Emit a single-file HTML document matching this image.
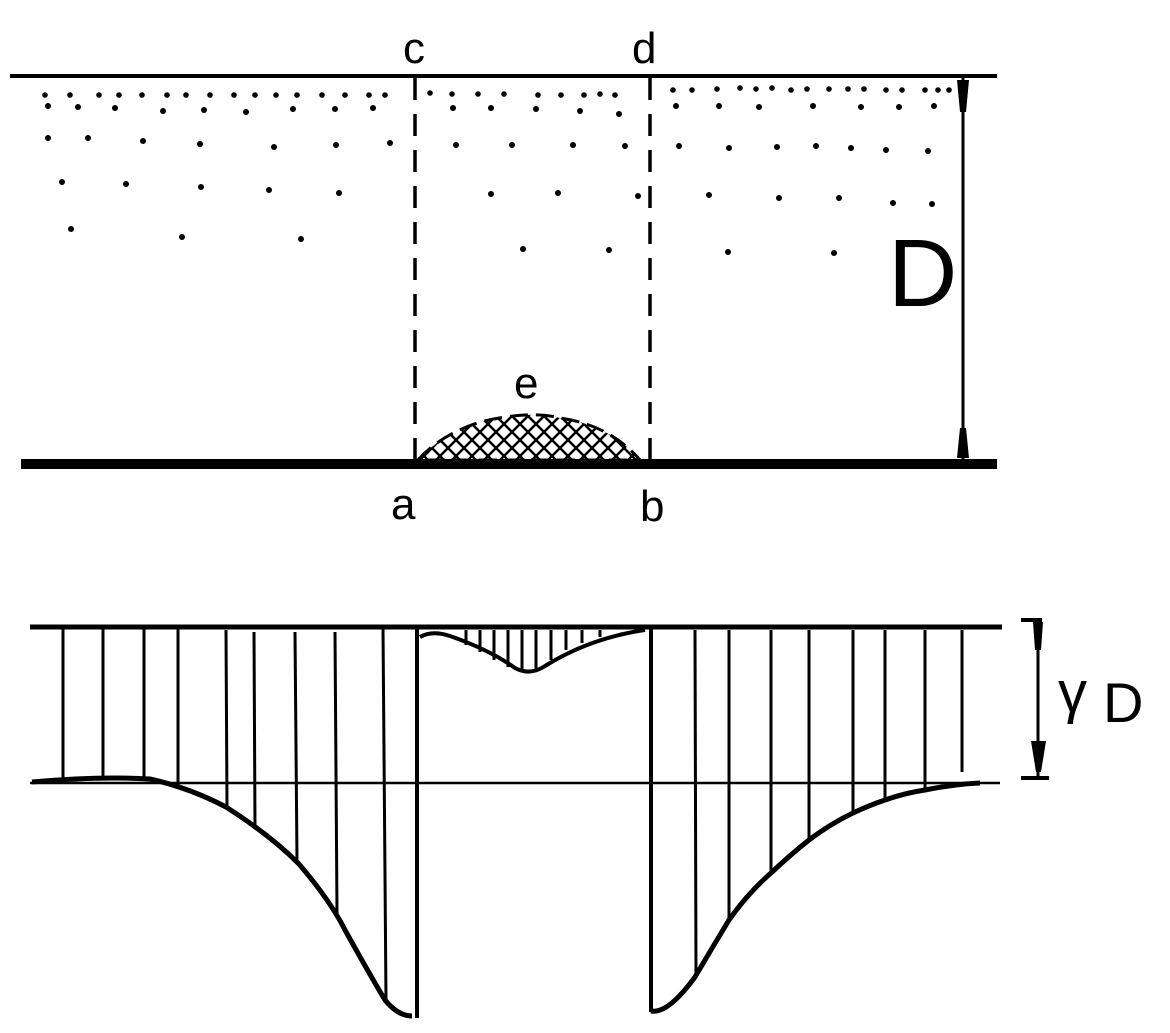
<!DOCTYPE html>
<html><head><meta charset="utf-8"><style>
html,body{margin:0;padding:0;background:#fff;}
svg{display:block;}
text{font-family:"Liberation Sans",sans-serif;fill:#000;}
</style></head><body>
<svg width="1170" height="1033" viewBox="0 0 1170 1033" xmlns="http://www.w3.org/2000/svg">
<defs>
<pattern id="hatch" width="16" height="16" patternUnits="userSpaceOnUse">
<path d="M0 0 L16 16 M16 0 L0 16" stroke="#000" stroke-width="2.5"/>
</pattern>
</defs>
<!-- top section -->
<line x1="10" y1="76" x2="997" y2="76" stroke="#000" stroke-width="4"/>
<line x1="21" y1="464" x2="997" y2="464" stroke="#000" stroke-width="10"/>
<line x1="415" y1="78" x2="415" y2="460" stroke="#000" stroke-width="3.5" stroke-dasharray="22,14"/>
<line x1="650" y1="78" x2="650" y2="460" stroke="#000" stroke-width="3.5" stroke-dasharray="22,14"/>
<!-- mound -->
<path d="M418 460 Q440 435 480 422 Q530 410 560 418 Q610 425 640 460 Z" fill="url(#hatch)" stroke="#000" stroke-width="3" stroke-dasharray="18,8"/>
<!-- D arrow -->
<line x1="963" y1="78" x2="963" y2="460" stroke="#000" stroke-width="3"/>
<polygon points="957,80 969,80 966,112 960,112" fill="#000"/>
<polygon points="957,458 969,458 966,428 960,428" fill="#000"/>
<!-- labels -->
<text x="403" y="63" font-size="44">c</text>
<text x="632" y="63" font-size="44">d</text>
<text x="514" y="398" font-size="44">e</text>
<text x="391" y="519" font-size="44">a</text>
<text x="640" y="521" font-size="44">b</text>
<text x="888" y="306" font-size="96">D</text>
<!-- dots -->
<g fill="#000">
<circle cx="45" cy="95" r="2.8"/><circle cx="70" cy="95" r="2.8"/><circle cx="99" cy="95" r="2.8"/><circle cx="119" cy="95" r="2.8"/><circle cx="142" cy="95" r="2.8"/><circle cx="167" cy="95" r="2.8"/><circle cx="186" cy="95" r="2.8"/><circle cx="210" cy="95" r="2.8"/><circle cx="234" cy="95" r="2.8"/><circle cx="255" cy="95" r="2.8"/><circle cx="276" cy="95" r="2.8"/><circle cx="297" cy="95" r="2.8"/><circle cx="322" cy="95" r="2.8"/><circle cx="345" cy="95" r="2.8"/><circle cx="369" cy="95" r="2.8"/><circle cx="385" cy="95" r="2.8"/>
<circle cx="430" cy="93" r="2.8"/><circle cx="452" cy="94" r="2.8"/><circle cx="478" cy="94" r="2.8"/><circle cx="504" cy="94" r="2.8"/><circle cx="538" cy="95" r="2.8"/><circle cx="561" cy="95" r="2.8"/><circle cx="584" cy="95" r="2.8"/><circle cx="600" cy="94" r="2.8"/><circle cx="615" cy="95" r="2.8"/>
<circle cx="673" cy="90" r="2.8"/><circle cx="692" cy="90" r="2.8"/><circle cx="717" cy="89" r="2.8"/><circle cx="740" cy="88" r="2.8"/><circle cx="756" cy="89" r="2.8"/><circle cx="772" cy="88" r="2.8"/><circle cx="791" cy="90" r="2.8"/><circle cx="807" cy="89" r="2.8"/><circle cx="829" cy="89" r="2.8"/><circle cx="848" cy="89" r="2.8"/><circle cx="864" cy="89" r="2.8"/><circle cx="886" cy="90" r="2.8"/><circle cx="902" cy="90" r="2.8"/><circle cx="925" cy="90" r="2.8"/><circle cx="938" cy="90" r="2.8"/><circle cx="949" cy="90" r="2.8"/>
<circle cx="48" cy="106" r="3"/><circle cx="78" cy="107" r="3"/><circle cx="115" cy="108" r="3"/><circle cx="163" cy="111" r="3"/><circle cx="204" cy="110" r="3"/><circle cx="246" cy="112" r="3"/><circle cx="293" cy="109" r="3"/><circle cx="335" cy="109" r="3"/><circle cx="373" cy="108" r="3"/><circle cx="453" cy="108" r="3"/><circle cx="491" cy="108" r="3"/><circle cx="536" cy="109" r="3"/><circle cx="580" cy="111" r="3"/><circle cx="619" cy="114" r="3"/>
<circle cx="676" cy="106" r="3"/><circle cx="719" cy="106" r="3"/><circle cx="759" cy="107" r="3"/><circle cx="813" cy="106" r="3"/><circle cx="861" cy="107" r="3"/><circle cx="899" cy="107" r="3"/><circle cx="934" cy="106" r="3"/>
<circle cx="48" cy="138" r="3"/><circle cx="88" cy="138" r="3"/><circle cx="143" cy="141" r="3"/><circle cx="200" cy="144" r="3"/><circle cx="274" cy="147" r="3"/><circle cx="336" cy="145" r="3"/><circle cx="390" cy="143" r="3"/><circle cx="456" cy="145" r="3"/><circle cx="512" cy="145" r="3"/><circle cx="573" cy="145" r="3"/><circle cx="625" cy="146" r="3"/>
<circle cx="679" cy="146" r="3"/><circle cx="729" cy="148" r="3"/><circle cx="777" cy="147" r="3"/><circle cx="816" cy="146" r="3"/><circle cx="851" cy="148" r="3"/><circle cx="886" cy="150" r="3"/><circle cx="928" cy="151" r="3"/>
<circle cx="62" cy="182" r="3"/><circle cx="126" cy="184" r="3"/><circle cx="201" cy="187" r="3"/><circle cx="269" cy="190" r="3"/><circle cx="339" cy="193" r="3"/><circle cx="491" cy="194" r="3"/><circle cx="558" cy="193" r="3"/><circle cx="638" cy="196" r="3"/><circle cx="709" cy="195" r="3"/><circle cx="779" cy="198" r="3"/><circle cx="839" cy="198" r="3"/><circle cx="893" cy="203" r="3"/><circle cx="932" cy="204" r="3"/>
<circle cx="71" cy="229" r="3"/><circle cx="182" cy="237" r="3"/><circle cx="301" cy="239" r="3"/><circle cx="523" cy="249" r="3"/><circle cx="609" cy="250" r="3"/><circle cx="728" cy="252" r="3"/><circle cx="834" cy="253" r="3"/>
</g>
<!-- bottom section -->
<line x1="30" y1="627" x2="1002" y2="627" stroke="#000" stroke-width="5"/>
<line x1="30" y1="783" x2="1000" y2="783" stroke="#000" stroke-width="2.5"/>
<!-- left curve -->
<path d="M32 782 Q100 776 150 779 Q190 788 226 807 Q270 835 298 863 Q330 900 345 930 Q370 975 385 1000 Q398 1016 412 1016" fill="none" stroke="#000" stroke-width="5"/>
<line x1="417" y1="627" x2="417" y2="1018" stroke="#000" stroke-width="4"/>
<g stroke="#000" stroke-width="3">
<line x1="63" y1="628" x2="63" y2="779"/>
<line x1="103" y1="628" x2="103" y2="778"/>
<line x1="144" y1="628" x2="144" y2="778"/>
<line x1="178" y1="628" x2="178" y2="787"/>
<line x1="226" y1="630" x2="227" y2="807"/>
<line x1="254" y1="632" x2="255" y2="828"/>
<line x1="295" y1="632" x2="297" y2="861"/>
<line x1="335" y1="632" x2="337" y2="913"/>
<line x1="383" y1="628" x2="386" y2="1000"/>
</g>
<!-- middle curve -->
<path d="M420 637 Q432 630 450 636 Q490 650 515 668 Q530 676 545 666 Q590 638 645 630" fill="none" stroke="#000" stroke-width="4"/>
<g stroke="#000" stroke-width="3">
<line x1="466" y1="630" x2="466" y2="645"/><line x1="480" y1="630" x2="480" y2="652"/><line x1="494" y1="630" x2="494" y2="660"/><line x1="508" y1="630" x2="508" y2="667"/><line x1="522" y1="630" x2="522" y2="672"/><line x1="536" y1="630" x2="536" y2="670"/><line x1="551" y1="630" x2="551" y2="660"/><line x1="566" y1="630" x2="566" y2="650"/><line x1="582" y1="630" x2="582" y2="643"/><line x1="600" y1="630" x2="600" y2="637"/>
</g>
<!-- right curve -->
<line x1="651" y1="627" x2="651" y2="1012" stroke="#000" stroke-width="4"/>
<path d="M651 1011 Q668 1014 695 977 Q712 948 729 920 Q748 893 771 873 Q790 855 809 840 Q830 824 853 813 Q870 805 885 800 Q905 793 925 790 Q955 784 980 783" fill="none" stroke="#000" stroke-width="5"/>
<g stroke="#000" stroke-width="3">
<line x1="695" y1="630" x2="696" y2="977"/>
<line x1="729" y1="630" x2="729" y2="920"/>
<line x1="771" y1="630" x2="771" y2="873"/>
<line x1="809" y1="630" x2="809" y2="840"/>
<line x1="853" y1="630" x2="853" y2="813"/>
<line x1="885" y1="630" x2="885" y2="800"/>
<line x1="925" y1="630" x2="925" y2="790"/>
<line x1="962" y1="630" x2="962" y2="772"/>
</g>
<!-- gamma D arrow -->
<line x1="1038" y1="620" x2="1038" y2="778" stroke="#000" stroke-width="3"/>
<line x1="1021" y1="620" x2="1042" y2="620" stroke="#000" stroke-width="4"/>
<line x1="1021" y1="778" x2="1049" y2="778" stroke="#000" stroke-width="4"/>
<polygon points="1033,622 1043,622 1041,650 1035,650" fill="#000"/>
<polygon points="1031,741 1046,741 1041,772 1036,772" fill="#000"/>
<text x="1058" y="712" font-size="58" font-family="Liberation Serif, serif">γ</text>
<text x="1103" y="722" font-size="56">D</text>
</svg>
</body></html>
